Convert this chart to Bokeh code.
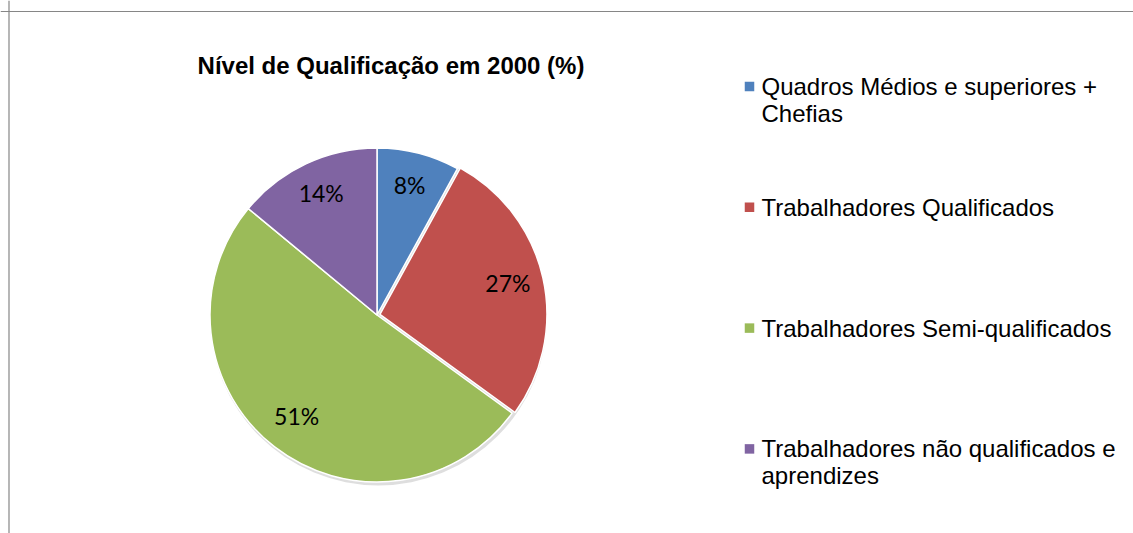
import math
import textwrap
from bokeh.plotting import figure
from bokeh.models import ColumnDataSource, Range1d, Span
from bokeh.core.properties import value
from bokeh.embed import file_html
from bokeh.resources import INLINE

# ---- data ----
title = "Nível de Qualificação em 2000 (%)"
categories = [
    "Quadros Médios e superiores + Chefias",
    "Trabalhadores Qualificados",
    "Trabalhadores Semi-qualificados",
    "Trabalhadores não qualificados e aprendizes",
]
values = [8, 27, 51, 14]
colors = ["#4F81BD", "#C0504D", "#9BBB59", "#8064A2"]
explode = [0, 3, 0, 0]

# ---- layout (pixel space of the figure) ----
W, H = 1133, 533
OFF = 0  # figure is placed at the page origin


def sx(x):
    return x - OFF


def sy(y):
    return (H + OFF) - y


cx, cy, R = sx(376.5), sy(314.5), 167
label_frac = 0.785

p = figure(width=W, height=H, x_range=Range1d(0, W), y_range=Range1d(0, H),
           x_axis_type=None, y_axis_type=None, toolbar_location=None,
           output_backend="svg", min_border=0)
p.grid.visible = False
p.outline_line_color = None
p.background_fill_color = "white"
p.border_fill_color = "white"

# frame lines (top and left)
p.add_layout(Span(location=sx(8.5), dimension="height", line_color="#868686", line_width=1.2))
p.add_layout(Span(location=sy(11), dimension="width", line_color="#868686", line_width=1.2))

# ---- pie ----
total = float(sum(values))
starts, ends, xs, ys, lx, ly, labels = [], [], [], [], [], [], []
cum = 0.0
for v, e in zip(values, explode):
    a0 = cum / total * 2 * math.pi
    cum += v
    a1 = cum / total * 2 * math.pi
    mid = (a0 + a1) / 2
    starts.append(math.pi / 2 - a0)
    ends.append(math.pi / 2 - a1)
    ox = e * math.sin(mid)
    oy = e * math.cos(mid)
    xs.append(cx + ox)
    ys.append(cy + oy)
    lx.append(cx + ox + label_frac * R * math.sin(mid))
    ly.append(cy + oy + label_frac * R * math.cos(mid) + 3)
    labels.append(f"{v / total * 100:.0f}%")

src = ColumnDataSource(dict(x=xs, y=ys, start=starts, end=ends, color=colors,
                            lx=lx, ly=ly, label=labels))

# subtle shadow
p.circle(x=cx + 1.5, y=cy - 2, radius=R + 1.5, fill_color="#c8c8c8", fill_alpha=0.6,
         line_color=None)

p.wedge(x="x", y="y", radius=R, start_angle="start", end_angle="end",
        direction="clock", fill_color="color", line_color="white", line_width=1.5,
        source=src)

p.text(x="lx", y="ly", text="label", source=src, text_align="center",
       text_baseline="middle", text_font=value("Lato"), text_font_size="23px",
       text_color="black")

# ---- title ----
p.text(x=[sx(390.5)], y=[sy(65)], text=[title], text_align="center",
       text_baseline="middle", text_font=value("Liberation Sans"),
       text_font_size="24px", text_font_style="bold", text_color="black")

# ---- legend ----
leg_sq_x = sx(749)
leg_txt_x = sx(761)
first_mid = 86
item_gap = 120.8
line_gap = 26.5
sq_x, sq_y, t_x, t_y, t_text = [], [], [], [], []
for i, cat in enumerate(categories):
    mid_y = first_mid + item_gap * i
    sq_x.append(leg_sq_x)
    sq_y.append(sy(mid_y))
    for j, line in enumerate(textwrap.wrap(cat, width=32)):
        t_x.append(leg_txt_x)
        t_y.append(sy(mid_y + line_gap * j))
        t_text.append(line)

p.rect(x=sq_x, y=sq_y, width=9.5, height=9.5, fill_color=colors, line_color=None)
p.text(x=t_x, y=t_y, text=t_text, text_align="left", text_baseline="middle",
       text_font=value("Liberation Sans"), text_font_size="24px", text_color="black")

open("out.html", "w").write(file_html(p, INLINE))
